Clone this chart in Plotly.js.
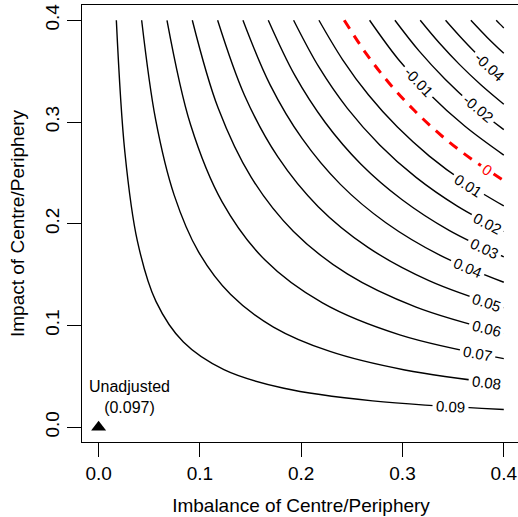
<!DOCTYPE html>
<html>
<head>
<meta charset="utf-8">
<script src="https://cdn.plot.ly/plotly-3.0.1.min.js"></script>
<style>html,body{margin:0;padding:0;overflow:hidden;background:#fff;}#chart{width:520px;height:517px;}</style>
</head>
<body>
<div id="chart"></div>
<script>
// Contour levels of the adjusted estimate
const levels = [0.09, 0.08, 0.07, 0.06, 0.05, 0.04, 0.03, 0.02, 0.01, 0, -0.01, -0.02, -0.03, -0.04, -0.05, -0.06];

// Points (imbalance = x, impact = y)
const curveX = [
  [0.0175,0.0259,0.0383,0.0566,0.0837,0.1237,0.1829,0.2705,0.4],
  [0.0425,0.0563,0.0745,0.0985,0.1304,0.1726,0.2284,0.3023,0.4],
  [0.0675,0.0908,0.1222,0.1643,0.2210,0.2973,0.4],
  [0.0925,0.1181,0.1507,0.1924,0.2455,0.3134,0.4],
  [0.1175,0.1441,0.1768,0.2168,0.2659,0.3261,0.4],
  [0.1425,0.1692,0.2010,0.2387,0.2836,0.3368,0.4],
  [0.1675,0.1936,0.2239,0.2588,0.2993,0.3460,0.4],
  [0.1925,0.2174,0.2456,0.2775,0.3134,0.3541,0.4],
  [0.2175,0.2408,0.2665,0.2950,0.3265,0.3614,0.4],
  [0.2425,0.2636,0.2865,0.3115,0.3386,0.3680,0.4],
  [0.2675,0.2958,0.3271,0.3617,0.4],
  [0.2925,0.3163,0.3421,0.3699,0.4],
  [0.3175,0.3364,0.3564,0.3776,0.4],
  [0.3425,0.3561,0.3701,0.3848,0.4],
  [0.3675,0.3834,0.4],
  [0.3925,0.3962,0.4]
];
const curveY = [
  [0.4,0.2705,0.1829,0.1237,0.0837,0.0566,0.0383,0.0259,0.0175],
  [0.4,0.3023,0.2284,0.1726,0.1304,0.0985,0.0745,0.0563,0.0425],
  [0.4,0.2973,0.2210,0.1643,0.1222,0.0908,0.0675],
  [0.4,0.3134,0.2455,0.1924,0.1507,0.1181,0.0925],
  [0.4,0.3261,0.2659,0.2168,0.1768,0.1441,0.1175],
  [0.4,0.3368,0.2836,0.2387,0.2010,0.1692,0.1425],
  [0.4,0.3460,0.2993,0.2588,0.2239,0.1936,0.1675],
  [0.4,0.3541,0.3134,0.2775,0.2456,0.2174,0.1925],
  [0.4,0.3614,0.3265,0.2950,0.2665,0.2408,0.2175],
  [0.4,0.3680,0.3386,0.3115,0.2865,0.2636,0.2425],
  [0.4,0.3617,0.3271,0.2958,0.2675],
  [0.4,0.3699,0.3421,0.3163,0.2925],
  [0.4,0.3776,0.3564,0.3364,0.3175],
  [0.4,0.3848,0.3701,0.3561,0.3425],
  [0.4,0.3834,0.3675],
  [0.4,0.3962,0.3925]
];

// Contour labels
const labelText = ["0.09","0.08","0.07","0.06","0.05","0.04","0.03","0.02","0.01","0","-0.01","-0.02","-0.04"];
const labelX = [0.3475,0.383,0.374,0.383,0.383,0.364,0.381,0.384,0.365,0.383,0.316,0.375,0.386];
const labelY = [0.0201,0.0444,0.0722,0.0966,0.1227,0.1566,0.176,0.2005,0.238,0.253,0.340,0.313,0.355];
const labelAngle = [3,7,11,14,18,23,25,28,33,34,47,40,43];

// Unadjusted point
const unadjX = [0];
const unadjY = [0];
const unadjEstimate = 0.097;

// Axis ticks
const tickVals = [0, 0.1, 0.2, 0.3, 0.4];
const tickText = ["0.0", "0.1", "0.2", "0.3", "0.4"];

const FONT = "Liberation Sans, Arial, sans-serif";

const traces = levels.map((lv, i) => ({
  type: "scatter",
  mode: "lines",
  x: curveX[i],
  y: curveY[i],
  hoverinfo: "skip",
  line: lv === 0
    ? {color: "#ff0000", width: 3, dash: "10px,8px", shape: "spline", smoothing: 1}
    : {color: "#000000", width: 1.4, shape: "spline", smoothing: 1}
}));

traces.push({
  type: "scatter",
  mode: "markers",
  x: unadjX,
  y: unadjY,
  marker: {symbol: "triangle-up", size: 13, color: "#000000"},
  hoverinfo: "skip"
});

const annotations = labelText.map((t, i) => ({
  x: labelX[i], y: labelY[i], xref: "x", yref: "y",
  text: t, showarrow: false, textangle: labelAngle[i],
  xanchor: "center", yanchor: "middle",
  bgcolor: "#ffffff", borderpad: 3,
  font: {family: FONT, size: 15, color: t === "0" ? "#ff0000" : "#000000"}
}));

annotations.push({
  x: 0.03, y: 0.030, xref: "x", yref: "y",
  text: "Unadjusted<br>(" + unadjEstimate.toFixed(3) + ")",
  showarrow: false, xanchor: "center", yanchor: "middle", align: "center",
  font: {family: FONT, size: 16, color: "#000000"}
});

const axisBase = {
  tickvals: tickVals, ticktext: tickText,
  ticks: "outside", ticklen: 14, tickwidth: 1, tickcolor: "#000",
  showline: true, linecolor: "#000", linewidth: 1, mirror: true,
  showgrid: false, zeroline: false,
  tickfont: {family: FONT, size: 19, color: "#000"}
};

const layout = {
  width: 520, height: 517,
  margin: {l: 82, r: 0, t: 5, b: 75},
  paper_bgcolor: "#fff", plot_bgcolor: "#fff",
  showlegend: false,
  font: {family: FONT, color: "#000"},
  xaxis: Object.assign({}, axisBase, {
    range: [-0.0164, 0.416],
    title: {text: "Imbalance of Centre/Periphery", font: {family: FONT, size: 19, color: "#000"}, standoff: 15}
  }),
  yaxis: Object.assign({}, axisBase, {
    range: [-0.0145, 0.415],
    tickangle: -90,
    title: {text: "Impact of Centre/Periphery", font: {family: FONT, size: 19, color: "#000"}, standoff: 12}
  }),
  annotations: annotations
};

Plotly.newPlot("chart", traces, layout, {displayModeBar: false, staticPlot: true});
</script>
</body>
</html>
